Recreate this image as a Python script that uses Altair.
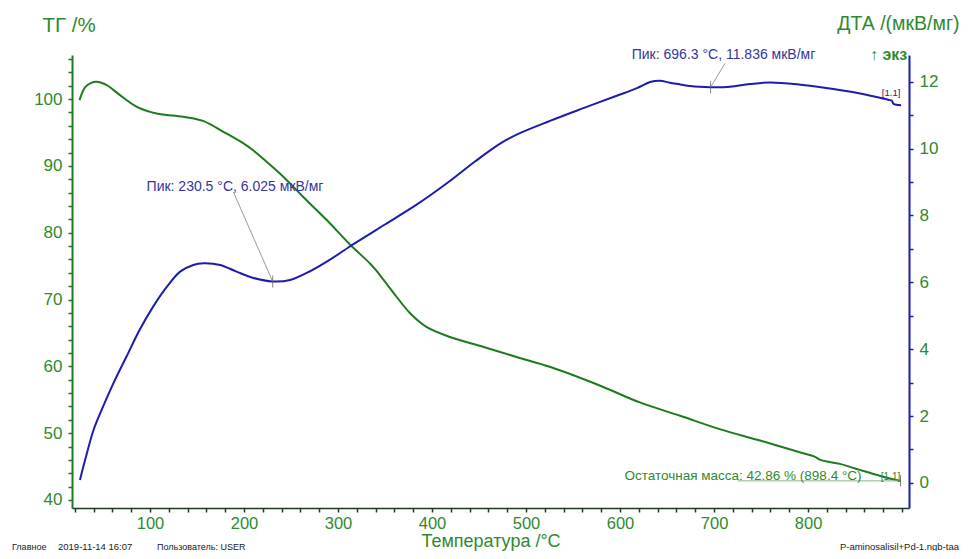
import altair as alt
import pandas as pd

# ---------------- data ----------------
tg_temp = [25, 31, 37, 43, 54, 68, 86, 107, 135, 157, 178, 199, 210, 220,
           242, 263, 288, 313, 334, 341, 359, 377, 394, 419, 455, 490, 526,
           579, 621, 664, 706, 749, 792, 807, 813, 834, 855, 877, 898.4]
tg_val = [99.85, 101.8, 102.4, 102.6, 102.1, 100.6, 98.85, 97.85, 97.35, 96.7,
          95.1, 93.4, 92.3, 91.1, 88.35, 85.35, 81.9, 78.2, 75.4, 74.3, 71.0,
          67.9, 65.9, 64.4, 62.9, 61.4, 59.9, 57.1, 54.6, 52.6, 50.6, 48.9,
          47.1, 46.5, 46.0, 45.4, 44.5, 43.6, 42.86]

dta_temp = [25.5, 31, 40, 50, 61, 75, 89, 103.5, 118, 132, 146, 157, 174.5,
            192, 210, 230.5, 249, 270, 291.5, 313, 334, 348, 384, 419, 446,
            472, 490, 525.5, 561, 596.5, 618, 632, 642.5, 653, 664, 674.5,
            696.3, 717, 738, 760, 792, 827, 862, 887, 889, 891, 899]
dta_val = [0.09, 0.69, 1.59, 2.28, 2.98, 3.78, 4.58, 5.28, 5.87, 6.32, 6.52,
           6.57, 6.52, 6.32, 6.13, 6.025, 6.07, 6.33, 6.68, 7.08, 7.45, 7.70,
           8.33, 9.03, 9.62, 10.14, 10.42, 10.83, 11.21, 11.58, 11.81, 11.99,
           12.03, 11.97, 11.92, 11.87, 11.836, 11.85, 11.93, 11.98, 11.91,
           11.78, 11.61, 11.45, 11.44, 11.34, 11.30]

# annotations (data coordinates)
peak_temp = [230.5, 696.3]
peak_dta = [6.025, 11.836]
peak_text = ["Пик: 230.5 °C, 6.025 мкВ/мг", "Пик: 696.3 °C, 11.836 мкВ/мг"]
peak_label_temp = [190.4, 710.1]
peak_label_dta = [8.85, 12.8]
peak_leader_temp = [188.6, 711.7]
peak_leader_dta = [8.71, 12.55]

res_temp = [898.4]
res_tg = [42.86]
res_line_start = [725.5]
res_text = ["Остаточная масса: 42.86 % (898.4 °C)"]
seg_text = ["[1.1]"]

footer_left = ["Главное", "2019-11-14 16:07", "Пользователь: USER"]
footer_right = ["P-aminosalisil+Pd-1.ngb-taa"]
exo_text = ["↑ экз"]

x_ticks = list(range(20, 901, 20))
tg_ticks = list(range(40, 107, 2))
dta_ticks = list(range(0, 13, 1))

# ---------------- styles ----------------
GREEN_LINE = "#1f7a1f"
GREEN_TEXT = "#2f8a2f"
BLUE_LINE = "#1c1cad"
BLUE_TEXT = "#35359c"
FONT = "Liberation Sans"

tg_df = pd.DataFrame({"T": tg_temp, "TG": tg_val})
dta_df = pd.DataFrame({"T": dta_temp, "DTA": dta_val})
peak_df = pd.DataFrame({"T": peak_temp, "DTA": peak_dta, "text": peak_text,
                        "LT": peak_label_temp, "LY": peak_label_dta,
                        "ST": peak_leader_temp, "SY": peak_leader_dta})
res_df = pd.DataFrame({"T": res_temp, "TG": res_tg, "T0": res_line_start,
                       "text": res_text, "seg": seg_text})
end_df = pd.DataFrame({"T": [dta_temp[-1]], "DTA": [dta_val[-1]], "seg": seg_text})

x_scale = alt.Scale(domain=[17, 907.4], nice=False, zero=False)
tg_scale = alt.Scale(domain=[38.8, 106.6], nice=False, zero=False)
dta_scale = alt.Scale(domain=[-0.75, 12.8], nice=False, zero=False)

x_axis = alt.Axis(values=x_ticks,
                  labelExpr="(datum.value % 100 === 0 && datum.value < 900) ? datum.label : ''",
                  labelOverlap=False, labelFlush=False, grid=False,
                  domainColor="#1e3a1e", domainWidth=1.5, tickColor="#1e3a1e",
                  tickSize=4, tickWidth=1.5, labelColor=GREEN_TEXT, labelFont=FONT,
                  labelFontSize=16.5, labelPadding=3,
                  title="Температура /°C", titleColor=GREEN_TEXT, titleFont=FONT,
                  titleFontSize=18, titleFontWeight="normal", titleY=33,
                  titleBaseline="middle")
tg_axis = alt.Axis(orient="left", values=tg_ticks,
                   labelExpr="datum.value % 10 === 0 ? datum.label : ''",
                   labelOverlap=False, labelFlush=False, grid=False,
                   domainColor=GREEN_LINE, domainWidth=2, tickColor=GREEN_LINE,
                   tickSize=4, tickWidth=1.5, labelColor=GREEN_TEXT, labelFont=FONT,
                   labelFontSize=17, labelPadding=6,
                   title="ТГ /%", titleColor=GREEN_TEXT, titleFont=FONT,
                   titleFontSize=20.5, titleFontWeight="normal", titleAngle=0,
                   titleAlign="left", titleBaseline="middle", titleX=-30, titleY=-30)
dta_axis = alt.Axis(orient="right", values=dta_ticks,
                    labelExpr="datum.value % 2 === 0 ? datum.label : ''",
                    labelOverlap=False, labelFlush=False, grid=False,
                    domainColor=BLUE_LINE, domainWidth=2, tickColor=BLUE_LINE,
                    tickSize=4, tickWidth=1.5, labelColor=GREEN_TEXT, labelFont=FONT,
                    labelFontSize=17, labelPadding=6,
                    title="ДТА /(мкВ/мг)", titleColor=GREEN_TEXT, titleFont=FONT,
                    titleFontSize=19.5, titleFontWeight="normal", titleAngle=0,
                    titleAlign="right", titleBaseline="middle", titleX=50, titleY=-32)


def XE(field):
    return alt.X(field, type="quantitative", scale=x_scale, axis=x_axis)


def TGY(field):
    return alt.Y(field, type="quantitative", scale=tg_scale, axis=tg_axis)


def DTAY(field):
    return alt.Y(field, type="quantitative", scale=dta_scale, axis=dta_axis)


tg_group = alt.layer(
    alt.Chart(tg_df).mark_line(color=GREEN_LINE, strokeWidth=2, interpolate="catmull-rom")
    .encode(x=XE("T"), y=TGY("TG")),
    alt.Chart(res_df).mark_rule(color="#8fae8f", strokeWidth=1)
    .encode(x=XE("T0"), x2="T", y=TGY("TG")),
    alt.Chart(res_df).mark_tick(orient="vertical", size=11, thickness=1, color="#3a4a3a")
    .encode(x=XE("T"), y=TGY("TG")),
    alt.Chart(res_df).mark_text(align="right", baseline="middle", dx=-39, dy=-5,
                                font=FONT, fontSize=13.5, color=GREEN_TEXT)
    .encode(x=XE("T"), y=TGY("TG"), text="text"),
    alt.Chart(res_df).mark_text(align="center", baseline="middle", dx=-10, dy=-4,
                                font=FONT, fontSize=10, color=GREEN_TEXT)
    .encode(x=XE("T"), y=TGY("TG"), text="seg"),
)

dta_group = alt.layer(
    alt.Chart(dta_df).mark_line(color=BLUE_LINE, strokeWidth=2, interpolate="catmull-rom")
    .encode(x=XE("T"), y=DTAY("DTA")),
    alt.Chart(peak_df).mark_rule(color="#9a9a9a", strokeWidth=1)
    .encode(x=XE("ST"), y=DTAY("SY"), x2="T", y2="DTA"),
    alt.Chart(peak_df).mark_tick(orient="vertical", size=12, thickness=1, color="#555555")
    .encode(x=XE("T"), y=DTAY("DTA")),
    alt.Chart(peak_df).mark_text(align="center", baseline="middle", font=FONT,
                                 fontSize=14, color=BLUE_TEXT)
    .encode(x=XE("LT"), y=DTAY("LY"), text="text"),
    alt.Chart(end_df).mark_text(align="center", baseline="middle", dx=-10, dy=-12,
                                font=FONT, fontSize=9.5, color="#2a2a6a")
    .encode(x=XE("T"), y=DTAY("DTA"), text="seg"),
)


def free_text(txt, x, y, align, size, color, weight="normal", baseline="middle"):
    return alt.Chart(pd.DataFrame({"t": [txt]})).mark_text(
        align=align, baseline=baseline, font=FONT, fontSize=size, color=color,
        fontWeight=weight).encode(x=alt.value(x), y=alt.value(y), text="t")


misc = alt.layer(
    free_text(exo_text[0], 798, 0, "left", 16, GREEN_TEXT, "bold"),
    free_text(footer_left[0], -60, 495, "left", 9, "#222222", baseline="alphabetic"),
    free_text(footer_left[1], -14, 495, "left", 9.5, "#222222", baseline="alphabetic"),
    free_text(footer_left[2], 85, 495, "left", 9, "#222222", baseline="alphabetic"),
    free_text(footer_right[0], 887, 495, "right", 9.5, "#222222", baseline="alphabetic"),
)

chart = alt.layer(tg_group, dta_group, misc).resolve_scale(y="independent").properties(
    width=837, height=453,
    autosize=alt.AutoSizeParams(type="none"),
    padding={"left": 64, "top": 47, "right": 51, "bottom": 43},
    background="white",
).configure_view(stroke=None)

chart.save("out.html", embed_options={"renderer": "svg", "actions": False})
